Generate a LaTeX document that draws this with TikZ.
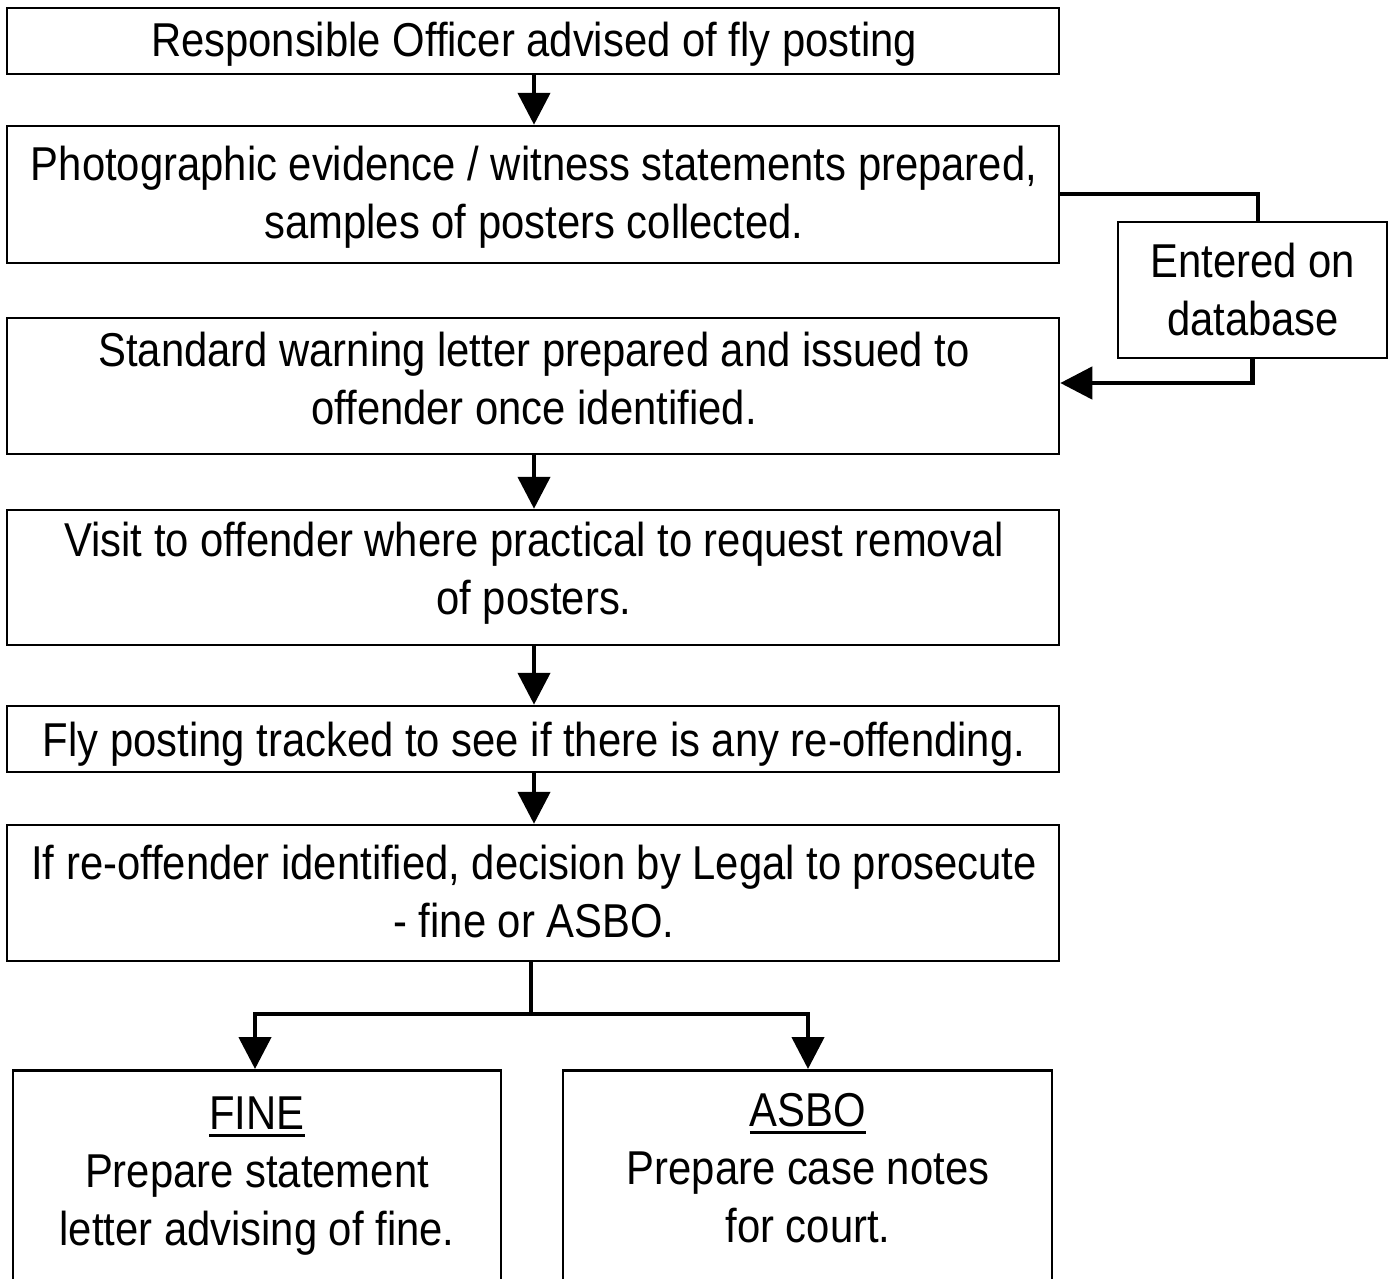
\documentclass[tikz,border=0pt]{standalone}
\usepackage{fontspec}
\setmainfont{Liberation Sans}[FakeStretch=0.88]
\usetikzlibrary{arrows.meta,calc}
\newcommand{\myul}[1]{{\setbox0\hbox{#1}\rlap{\rule[-8pt]{\wd0}{3pt}}\box0}}
\begin{document}
\begin{tikzpicture}[x=1pt,y=-1pt,
  every node/.style={font=\fontsize{47.5}{58}\selectfont},
  box/.style={draw, line width=2.5pt, rectangle, inner sep=0pt, fill=white},
  txt/.style={align=center, inner sep=0pt},
  conn/.style={line width=4.5pt, -{Triangle[length=32pt,width=32pt]}},
  plain/.style={line width=4.5pt}]
\useasboundingbox (0,0) rectangle (1396,1278);
\fill[white] (0,0) rectangle (1396,1278);
\node[box, minimum width=1052pt, minimum height=66pt] (b1) at (533,41) {};
\node[box, minimum width=1052pt, minimum height=137pt] (b2) at (533,194.5) {};
\node[box, minimum width=1052pt, minimum height=136pt] (b3) at (533,386) {};
\node[box, minimum width=1052pt, minimum height=135pt] (b4) at (533,577.5) {};
\node[box, minimum width=1052pt, minimum height=66pt] (b5) at (533,739) {};
\node[box, minimum width=1052pt, minimum height=136pt] (b6) at (533,893) {};
\node[box, minimum width=269pt, minimum height=136pt] (db) at (1252.5,290) {};
\node[box, minimum width=488pt, minimum height=260pt, anchor=north] (fine) at (257,1069) {};
\node[box, minimum width=489pt, minimum height=260pt, anchor=north] (asbo) at (807.5,1069) {};
\node[txt] (t1) at (534,44) {Responsible Officer advised of fly posting};
\node[txt] (t2) at (534,197.5) {Photographic evidence / witness statements prepared,\\samples of posters collected.};
\node[txt] (t3) at (534,379) {Standard warning letter prepared and issued to\\offender once identified.};
\node[txt] (t4) at (534,573.5) {Visit to offender where practical to request removal\\of posters.};
\node[txt] (t5) at (534,744) {Fly posting tracked to see if there is any re-offending.};
\node[txt] (t6) at (534,892) {If re-offender identified, decision by Legal to prosecute\\- fine or ASBO.};
\node[txt] (tdb) at (1253,290) {Entered on\\database};
\node[txt] (finetext) at (257,1176) {\myul{FINE}\\Prepare statement\\letter advising of fine.};
\node[txt] (asbotext) at (808,1168) {\myul{ASBO}\\Prepare case notes\\for court.};
\coordinate (split) at (531,1014);
\coordinate (dbin) at (1258,222);
\draw[conn] ([xshift=1pt]b1.south) -- ([xshift=1pt]b2.north);
\draw[conn] ([xshift=1pt]b3.south) -- ([xshift=1pt]b4.north);
\draw[conn] ([xshift=1pt]b4.south) -- ([xshift=1pt]b5.north);
\draw[conn] ([xshift=1pt]b5.south) -- ([xshift=1pt]b6.north);
\draw[plain] ([yshift=0.5pt]b2.east) -| (dbin);
\draw[conn] (db.south) |- ([yshift=3pt]b3.east);
\draw[plain] (b6.south -| split) -- (split);
\draw[conn] (split) -| (fine.north -| 255,0);
\draw[conn] (split) -| (asbo.north -| 808,0);
\end{tikzpicture}
\end{document}
